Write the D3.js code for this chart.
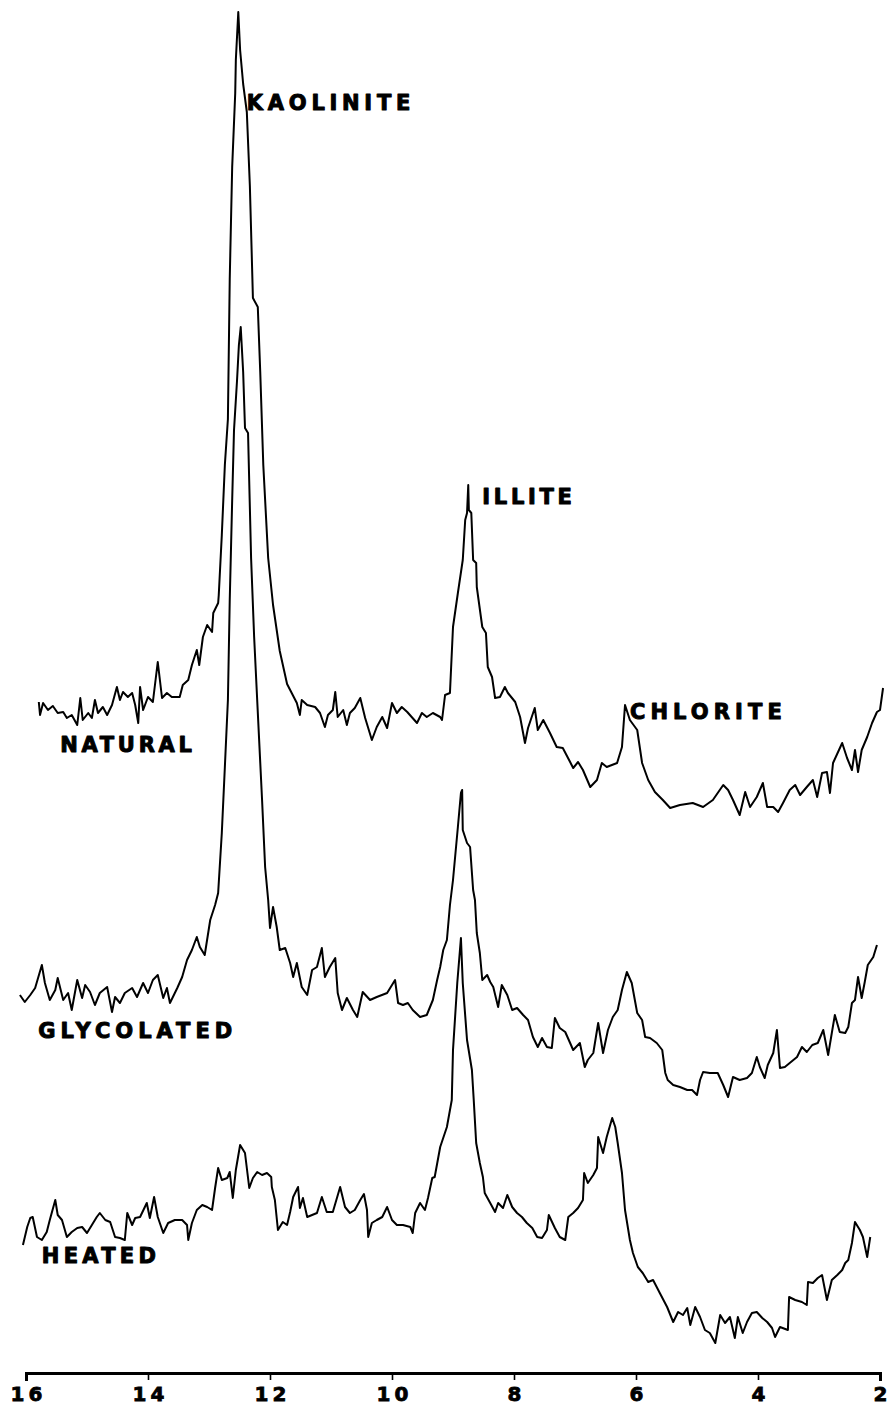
<!DOCTYPE html>
<html>
<head>
<meta charset="utf-8">
<script src="https://cdn.jsdelivr.net/npm/d3@7"></script>
<style>
  body { margin: 0; background: #fff; }
  svg { display: block; }
</style>
</head>
<body>
<div id="plot"></div>
<script>
// Diffractogram readings: [2-theta (deg), intensity (arbitrary units, traces stacked)]
const natural = [
  [15.79,671],[15.77,658],[15.72,670],[15.64,663],[15.56,667],[15.48,660],[15.39,661],[15.33,655],
  [15.25,658],[15.16,648],[15.11,675],[15.07,653],[14.98,660],[14.92,655],[14.87,673],[14.82,660],
  [14.74,666],[14.67,658],[14.59,668],[14.51,686],[14.46,673],[14.41,681],[14.33,676],[14.26,680],
  [14.21,668],[14.16,650],[14.13,686],[14.08,663],[14.00,676],[13.92,671],[13.84,711],[13.77,675],
  [13.69,680],[13.61,676],[13.48,676],[13.43,688],[13.34,693],[13.28,708],[13.20,723],[13.16,708],
  [13.10,736],[13.03,748],[12.95,741],[12.93,760],[12.85,770],[12.84,778],[12.79,838],[12.74,908],
  [12.69,954],[12.66,1094],[12.62,1206],[12.57,1280],[12.56,1313],[12.52,1361],[12.49,1323],[12.44,1289],
  [12.38,1261],[12.33,1187],[12.28,1075],[12.20,1066],[12.16,1001],[12.11,908],[12.03,815],[11.95,768],
  [11.84,722],[11.72,689],[11.56,670],[11.51,658],[11.48,673],[11.39,668],[11.26,666],[11.18,660],
  [11.10,646],[11.05,658],[10.97,663],[10.93,681],[10.89,656],[10.80,663],[10.74,648],[10.69,660],
  [10.61,665],[10.52,675],[10.44,655],[10.33,633],[10.25,646],[10.16,656],[10.08,645],[10.00,670],
  [9.92,660],[9.84,666],[9.75,661],[9.59,650],[9.51,660],[9.43,656],[9.33,660],[9.21,656],
  [9.18,653],[9.13,678],[9.05,680],[9.00,746],[8.92,780],[8.84,813],[8.80,853],[8.77,860],
  [8.75,888],[8.74,863],[8.70,860],[8.67,813],[8.62,810],[8.61,786],[8.52,746],[8.46,740],
  [8.43,706],[8.36,696],[8.31,675],[8.23,676],[8.15,686],[8.10,680],[7.98,671],[7.90,656],
  [7.82,630],[7.77,645],[7.66,665],[7.61,643],[7.52,653],[7.41,640],[7.30,626],[7.20,625],
  [7.08,611],[7.03,605],[6.95,611],[6.87,603],[6.75,586],[6.64,593],[6.56,610],[6.48,606],
  [6.31,610],[6.23,626],[6.18,668],[6.10,653],[5.98,643],[5.90,610],[5.80,593],[5.69,581],
  [5.56,573],[5.44,565],[5.28,568],[5.07,570],[4.90,566],[4.74,573],[4.57,588],[4.49,583],
  [4.41,573],[4.30,558],[4.21,581],[4.13,566],[4.02,576],[3.92,590],[3.85,566],[3.75,566],
  [3.67,561],[3.59,570],[3.48,583],[3.39,588],[3.31,578],[3.20,586],[3.10,593],[3.03,576],
  [2.95,600],[2.87,601],[2.82,580],[2.77,610],[2.62,630],[2.54,615],[2.46,603],[2.41,623],
  [2.36,601],[2.30,623],[2.21,636],[2.13,650],[2.05,661],[2.00,663],[1.95,685]
];

const glycolated = [
  [16.10,378],[16.02,371],[15.93,378],[15.85,385],[15.74,408],[15.69,390],[15.61,373],[15.52,383],
  [15.48,395],[15.39,373],[15.31,380],[15.25,363],[15.16,393],[15.08,375],[15.03,388],[14.95,381],
  [14.87,368],[14.79,380],[14.67,386],[14.59,361],[14.54,376],[14.46,370],[14.38,380],[14.26,385],
  [14.18,376],[14.08,390],[14.00,380],[13.92,393],[13.84,398],[13.75,375],[13.69,385],[13.64,370],
  [13.52,385],[13.44,396],[13.36,413],[13.28,423],[13.20,436],[13.15,426],[13.07,418],[12.98,453],
  [12.90,468],[12.85,480],[12.79,540],[12.74,606],[12.69,673],[12.66,773],[12.62,873],[12.59,943],
  [12.54,993],[12.51,1028],[12.48,1046],[12.44,1001],[12.41,945],[12.36,940],[12.31,815],[12.26,736],
  [12.21,673],[12.13,573],[12.08,506],[12.03,473],[12.00,445],[11.95,466],[11.89,446],[11.84,423],
  [11.75,425],[11.67,410],[11.62,396],[11.56,410],[11.48,386],[11.39,378],[11.31,403],[11.23,406],
  [11.15,425],[11.10,396],[11.02,406],[10.93,415],[10.89,380],[10.82,363],[10.74,375],[10.64,363],
  [10.57,356],[10.48,381],[10.36,373],[10.25,376],[10.08,380],[9.95,393],[9.90,370],[9.82,368],
  [9.74,370],[9.66,363],[9.54,356],[9.43,358],[9.33,373],[9.26,393],[9.21,406],[9.16,423],
  [9.10,433],[9.05,468],[9.00,493],[8.92,546],[8.87,580],[8.85,583],[8.84,543],[8.77,530],
  [8.72,526],[8.67,483],[8.64,473],[8.61,440],[8.56,420],[8.52,393],[8.44,398],[8.39,391],
  [8.34,386],[8.26,366],[8.20,388],[8.11,378],[8.03,363],[7.95,365],[7.85,358],[7.77,353],
  [7.69,336],[7.61,326],[7.54,335],[7.46,326],[7.38,325],[7.33,355],[7.25,345],[7.16,341],
  [7.08,330],[7.03,323],[6.92,330],[6.84,306],[6.79,313],[6.70,320],[6.62,350],[6.54,320],
  [6.46,343],[6.38,356],[6.30,363],[6.23,383],[6.15,401],[6.07,390],[5.98,360],[5.90,353],
  [5.85,336],[5.77,335],[5.66,330],[5.57,323],[5.52,300],[5.48,293],[5.39,288],[5.28,286],
  [5.16,283],[5.08,283],[5.00,278],[4.95,293],[4.90,301],[4.79,300],[4.66,300],[4.57,288],
  [4.49,276],[4.41,296],[4.30,293],[4.18,295],[4.10,300],[4.02,316],[3.97,306],[3.89,295],
  [3.84,308],[3.75,320],[3.69,343],[3.64,305],[3.56,306],[3.48,310],[3.36,316],[3.28,326],
  [3.20,321],[3.11,328],[3.02,330],[2.93,343],[2.85,318],[2.79,340],[2.74,358],[2.66,341],
  [2.57,340],[2.52,346],[2.46,370],[2.41,373],[2.36,396],[2.30,375],[2.25,391],[2.20,408],
  [2.11,416],[2.05,428]
];

const heated = [
  [16.05,128],[15.98,146],[15.93,155],[15.89,156],[15.82,136],[15.74,133],[15.66,141],[15.61,153],
  [15.52,173],[15.48,158],[15.41,153],[15.33,136],[15.25,141],[15.16,145],[15.08,146],[15.00,140],
  [14.92,148],[14.84,156],[14.79,160],[14.70,153],[14.62,151],[14.54,136],[14.46,135],[14.38,133],
  [14.34,160],[14.26,148],[14.21,155],[14.13,156],[14.02,170],[13.97,155],[13.90,176],[13.84,156],
  [13.75,140],[13.67,150],[13.56,153],[13.44,153],[13.36,148],[13.34,133],[13.28,150],[13.20,163],
  [13.11,168],[13.03,166],[12.95,163],[12.90,185],[12.85,205],[12.79,193],[12.70,195],[12.66,201],
  [12.61,175],[12.56,203],[12.49,228],[12.41,220],[12.34,185],[12.28,195],[12.21,201],[12.13,198],
  [12.05,200],[11.98,196],[11.97,186],[11.92,173],[11.87,143],[11.79,151],[11.72,148],[11.67,161],
  [11.62,176],[11.54,186],[11.51,165],[11.46,175],[11.39,156],[11.31,158],[11.23,160],[11.15,176],
  [11.07,161],[10.97,161],[10.85,186],[10.77,166],[10.69,160],[10.61,163],[10.52,173],[10.46,179],
  [10.41,163],[10.39,136],[10.33,150],[10.25,153],[10.16,156],[10.08,166],[10.00,153],[9.92,148],
  [9.82,148],[9.70,146],[9.66,140],[9.62,160],[9.54,170],[9.46,163],[9.41,175],[9.34,195],
  [9.30,196],[9.21,226],[9.10,246],[9.02,273],[9.00,323],[8.93,390],[8.87,435],[8.84,390],
  [8.77,333],[8.69,303],[8.66,273],[8.62,230],[8.56,210],[8.51,196],[8.48,180],[8.39,170],
  [8.31,161],[8.26,170],[8.18,165],[8.11,178],[8.03,166],[7.95,160],[7.87,156],[7.79,150],
  [7.70,145],[7.62,136],[7.54,135],[7.46,143],[7.43,158],[7.33,145],[7.25,136],[7.16,133],
  [7.11,156],[7.03,160],[6.95,165],[6.87,173],[6.85,200],[6.79,190],[6.70,198],[6.64,205],
  [6.62,236],[6.54,220],[6.48,236],[6.39,255],[6.34,246],[6.30,230],[6.23,200],[6.18,163],
  [6.10,133],[6.05,120],[5.97,106],[5.89,100],[5.80,91],[5.72,93],[5.61,80],[5.49,66],
  [5.39,51],[5.31,61],[5.23,58],[5.16,65],[5.11,48],[5.03,66],[4.95,56],[4.87,43],
  [4.79,40],[4.70,30],[4.62,58],[4.54,50],[4.46,56],[4.38,35],[4.33,56],[4.25,40],
  [4.18,51],[4.10,60],[4.02,61],[3.93,55],[3.85,51],[3.77,45],[3.72,36],[3.64,46],
  [3.51,43],[3.49,76],[3.39,73],[3.28,71],[3.20,68],[3.18,91],[3.10,90],[3.02,95],
  [2.95,98],[2.87,73],[2.79,93],[2.70,98],[2.62,103],[2.57,110],[2.52,113],[2.46,130],
  [2.41,151],[2.33,143],[2.28,136],[2.21,116],[2.16,136]
];

const tickValues = [16, 14, 12, 10, 8, 6, 4, 2];

// labels: text, 2-theta span (start, end), intensity of the baseline of the lettering
const labels = [
  {text: "KAOLINITE",  from: 12.38, to: 9.70,  level: 1263},
  {text: "ILLITE",     from: 8.52,  to: 7.05,  level: 869},
  {text: "CHLORITE",   from: 6.10,  to: 3.61,  level: 654},
  {text: "NATURAL",    from: 15.44, to: 13.28, level: 621},
  {text: "GLYCOLATED", from: 15.80, to: 12.62, level: 335},
  {text: "HEATED",     from: 15.74, to: 13.87, level: 110}
];

const width = 889;
const height = 1407;

const svg = d3.select("#plot")
    .append("svg")
    .attr("width", width)
    .attr("height", height);

const x = d3.scaleLinear()
    .domain([16, 2])
    .range([26, 880]);

const y = d3.scaleLinear()
    .domain([0, 1360])
    .range([1373, 13]);

const line = d3.line()
    .x(d => x(d[0]))
    .y(d => y(d[1]));

[natural, glycolated, heated].forEach(trace => {
    svg.append("path")
        .datum(trace)
        .attr("d", line)
        .attr("fill", "none")
        .attr("stroke", "#000")
        .attr("stroke-width", 2)
        .attr("stroke-linejoin", "round");
});

// peak / sample labels (heavy stencil-like lettering)
svg.selectAll("text.label")
    .data(labels)
    .enter()
    .append("text")
    .attr("class", "label")
    .attr("x", d => x(d.from))
    .attr("y", d => y(d.level))
    .attr("textLength", d => x(d.to) - x(d.from))
    .attr("lengthAdjust", "spacing")
    .attr("fill", "#000")
    .attr("stroke", "#000")
    .attr("stroke-width", 1)
    .attr("stroke-linejoin", "round")
    .style("font-family", "'DejaVu Sans', sans-serif")
    .style("font-weight", "bold")
    .style("font-size", "21px")
    .text(d => d.text);

// axis
const axis = svg.append("g")
    .attr("transform", `translate(0,${y(0)})`)
    .call(d3.axisBottom(x)
        .tickValues(tickValues)
        .tickSizeInner(7)
        .tickSizeOuter(8)
        .tickFormat(d3.format("d")));

axis.select(".domain")
    .attr("stroke", "#000")
    .attr("stroke-width", 3);

axis.selectAll(".tick line")
    .attr("stroke", "#000")
    .attr("stroke-width", 1.6);

axis.selectAll(".tick text")
    .attr("y", 28)
    .attr("dy", 0)
    .attr("fill", "#000")
    .attr("stroke", "#000")
    .attr("stroke-width", 0.8)
    .attr("textLength", d => d >= 10 ? 32 : null)
    .attr("lengthAdjust", "spacing")
    .style("font-family", "'DejaVu Sans', sans-serif")
    .style("font-weight", "bold")
    .style("font-size", "20px");
</script>
</body>
</html>
